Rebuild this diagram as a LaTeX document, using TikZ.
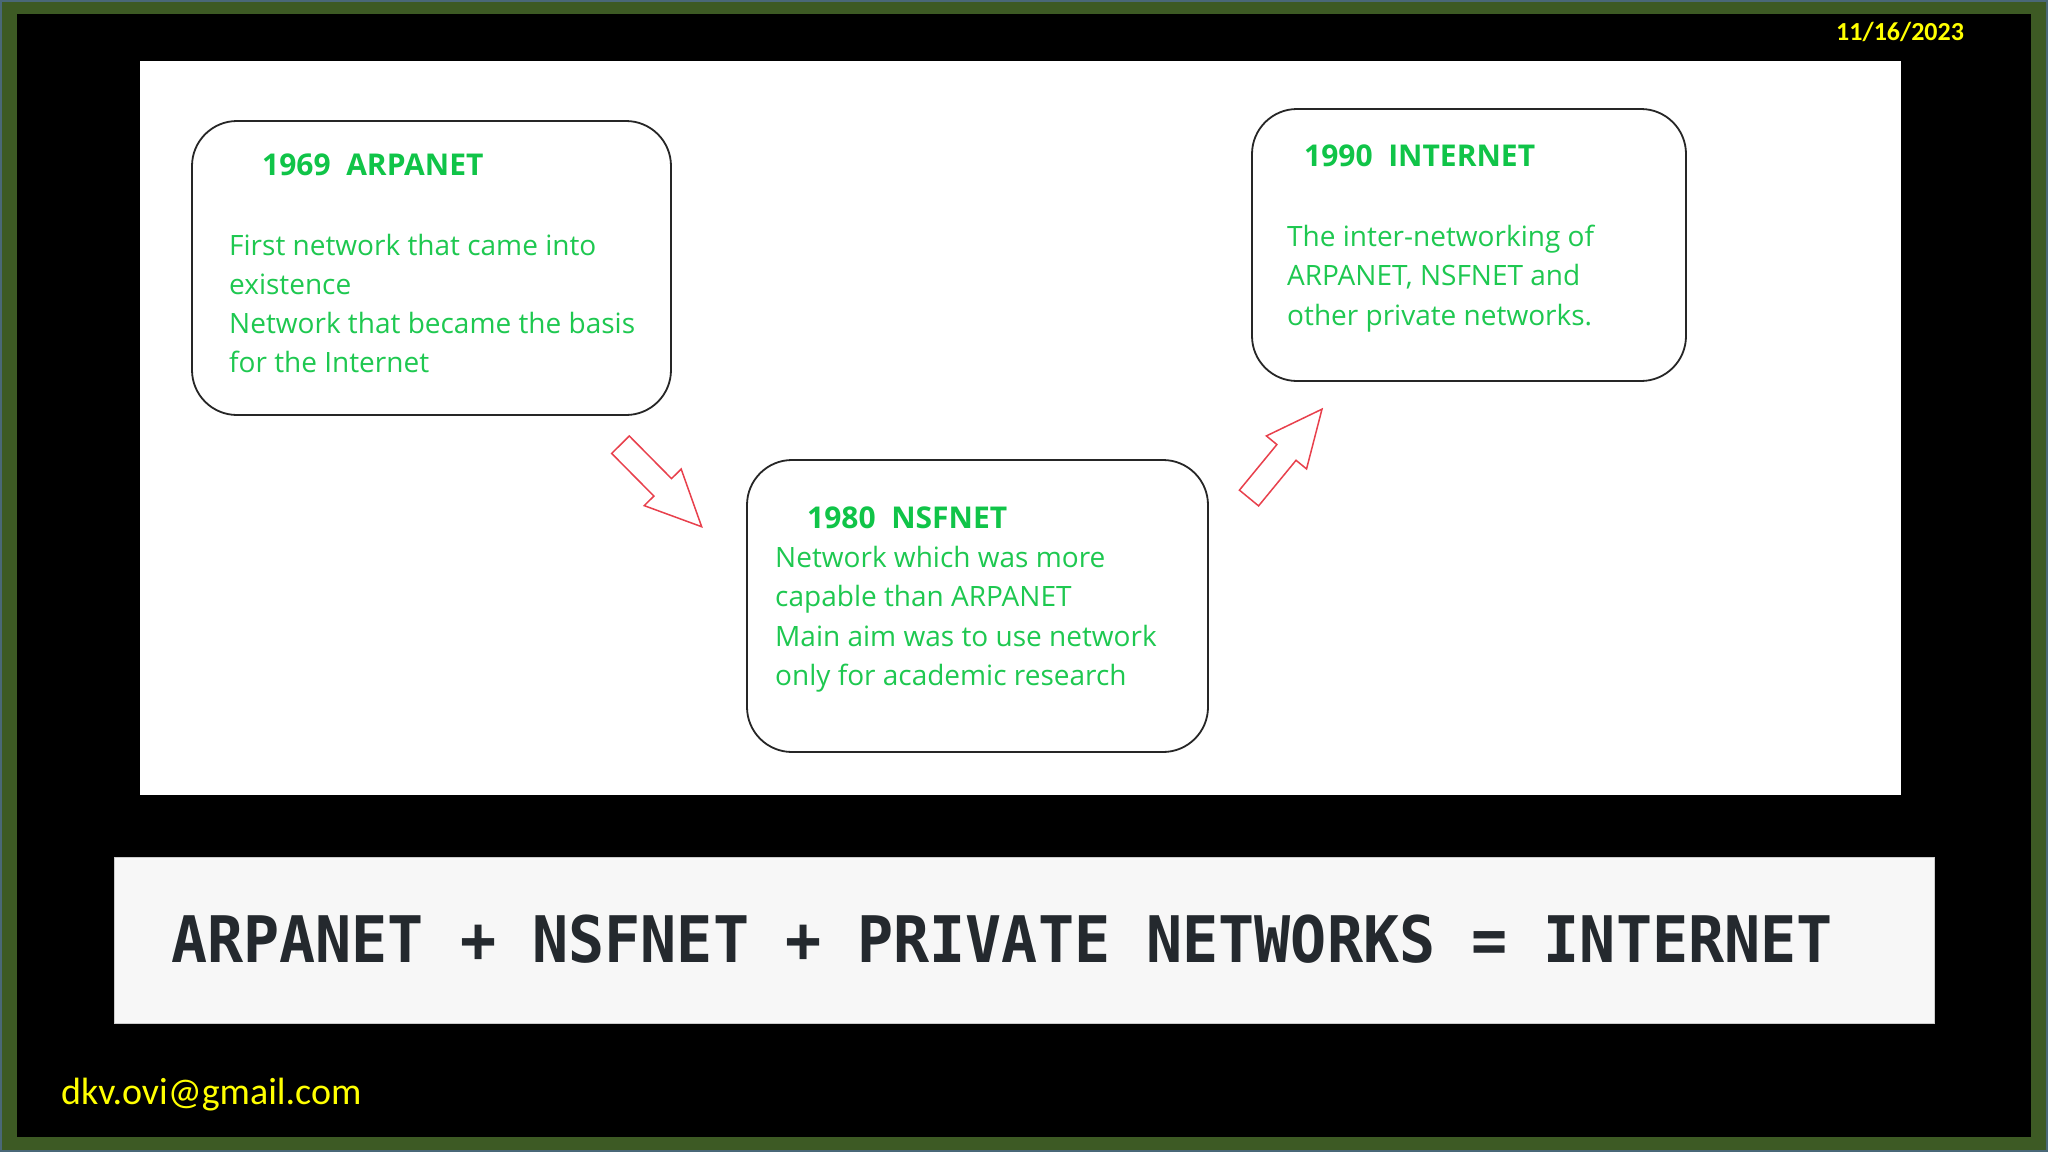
\documentclass[tikz,border=0pt]{standalone}
\usepackage{fontspec}
\setmainfont{Open Sans}
\newfontfamily\calfont{Carlito}
\newfontfamily\codefont{DejaVu Sans Mono}
\definecolor{frameblue}{HTML}{4A6878}
\definecolor{framegreen}{HTML}{3D5A24}
\definecolor{txtgreen}{HTML}{1EC850}
\definecolor{ttlgreen}{HTML}{10C448}
\definecolor{arrred}{HTML}{E8404C}
\definecolor{bannerbg}{HTML}{F7F7F7}
\definecolor{codeink}{HTML}{24292E}
\definecolor{ylw}{HTML}{FFFF00}
\newcommand{\toplines}[1]{\begin{tabular}[t]{@{}l@{}}#1\end{tabular}}
\begin{document}
\begin{tikzpicture}[x=1pt,y=-1pt,
  card/.style={draw=black!85, line width=1.8pt, fill=white, rounded corners=45pt, inner sep=0pt},
  ttl/.style={anchor=base west, inner sep=0pt, text=ttlgreen, font=\fontsize{30}{39}\selectfont\bfseries},
  body/.style={anchor=base west, inner sep=0pt, text=txtgreen, font=\fontsize{28}{39.3}\selectfont},
  blockarrow/.style={draw=arrred, line width=1.5pt, fill=white, line join=miter}
]
\useasboundingbox (0,0) rectangle (2048,1152);
% frame
\fill[frameblue] (0,0) rectangle (2048,1152);
\fill[framegreen] (2,2) rectangle (2046,1150);
\fill[black] (17,14) rectangle (2031,1137);
% white panel
\fill[white] (140,61) rectangle (1901,795);
% date
\node[anchor=base west, inner sep=0pt, text=ylw, font=\calfont\bfseries\fontsize{26}{30}\selectfont] (date) at (1836,40) {11/16/2023};
% cards
\node[card, minimum width=479pt, minimum height=294pt] (arpa) at (431.5,268) {};
\node[card, minimum width=461pt, minimum height=292pt] (nsf) at (977.5,606) {};
\node[card, minimum width=434pt, minimum height=272pt] (inet) at (1469,245) {};
% card texts
\node[ttl] (arpaT) at (262,175) {1969\ \ ARPANET};
\node[body] (arpaB) at (229,255) {\toplines{First network that came into\\existence\\Network that became the basis\\for the Internet}};
\node[ttl] (nsfT) at (807,528) {1980\ \ NSFNET};
\node[body] (nsfB) at (775,567.5) {\toplines{Network which was more\\capable than ARPANET\\Main aim was to use network\\only for academic research}};
\node[ttl] (inetT) at (1304,166.5) {1990\ \ INTERNET};
\node[body] (inetB) at (1287,246.5) {\toplines{The inter-networking of\\ARPANET, NSFNET and\\other private networks.}};
% block arrows
\begin{scope}[shift={(620.5,444.7)}, rotate=-45.3]
  \draw[blockarrow] (0,-12.4) -- (60,-12.4) -- (60,-26) -- (115.4,0) -- (60,26) -- (60,12.4) -- (0,12.4) -- cycle;
\end{scope}
\begin{scope}[shift={(1249,498)}, rotate=50.6]
  \draw[blockarrow] (0,-12.4) -- (59,-12.4) -- (59,-26) -- (115,0) -- (59,26) -- (59,12.4) -- (0,12.4) -- cycle;
\end{scope}
% banner
\node[draw=black!20, line width=0.8pt, fill=bannerbg, minimum width=1820pt, minimum height=166pt, inner sep=0pt] (banner) at (1024,940) {};
\node[anchor=base west, inner sep=0pt, text=codeink, font=\codefont\bfseries\fontsize{60}{66}\selectfont, yscale=1.07] (formula) at (171,962.5) {ARPANET + NSFNET + PRIVATE NETWORKS = INTERNET};
% email
\node[anchor=base west, inner sep=0pt, text=ylw, font=\calfont\fontsize{38}{44}\selectfont] (mail) at (61,1104) {dkv.ovi@gmail.com};
\end{tikzpicture}
\end{document}
